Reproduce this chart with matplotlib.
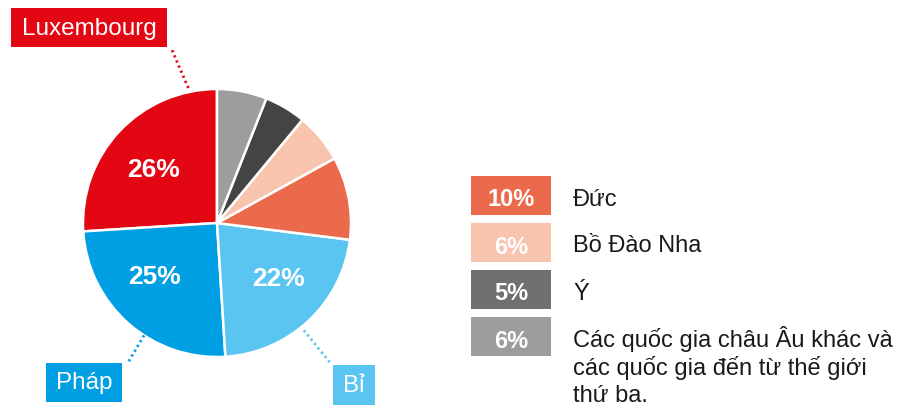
import matplotlib.pyplot as plt
import numpy as np
from matplotlib.patches import Rectangle

plt.rcParams['font.family'] = ['Liberation Sans', 'DejaVu Sans']

countries = ['Luxembourg', 'Pháp', 'Bỉ', 'Đức', 'Bồ Đào Nha', 'Ý',
             'Các quốc gia châu Âu khác và\ncác quốc gia đến từ thế giới\nthứ ba.']
shares = [26, 25, 22, 10, 6, 5, 6]
wedge_colors = ['#e30613', '#009fe3', '#5bc5f2', '#ec6a4c', '#f8c4ae', '#444443', '#9d9d9c']
legend_colors = ['#ec6a4c', '#f8c4ae', '#707070', '#9d9d9c']

W, H = 907, 408
fig = plt.figure(figsize=(W / 100, H / 100), dpi=100)
ax = fig.add_axes([0, 0, 1, 1])

cx, cy, R = 217, H - 223, 134
wedges, _, autotexts = ax.pie(
    shares, colors=wedge_colors, startangle=90, counterclock=True,
    center=(cx, cy), radius=R,
    autopct=lambda p: f'{p:.0f}%' if p > 15 else '', pctdistance=0.62,
    wedgeprops=dict(edgecolor='white', linewidth=1.8),
    textprops=dict(color='white', fontsize=19, fontweight='bold'))

ax.set_xlim(0, W)
ax.set_ylim(0, H)
ax.set_aspect('equal')
ax.axis('off')


def polar(angle, r):
    a = np.deg2rad(angle)
    return cx + r * np.cos(a), cy + r * np.sin(a)


# nudge the percentage labels toward the middle of each quarter
for t, ang in zip(autotexts[:3], [140, 220.7, 318]):
    t.set_position(polar(ang, 83))

# callout labels for the three big slices: (angle in, r in, angle out, r out, box)
callouts = [
    (102, 138, 104.6, 179, (11, 8, 156, 39)),
    (237, 134, 237.5, 166, (46, 363, 76, 39)),
    (309, 138, 309, 179, (333, 365, 42, 40)),
]
for i, (a0, r0, a1, r1, (bx, by, bw, bh)) in enumerate(callouts):
    x0, y0 = polar(a0, r0)
    x1, y1 = polar(a1, r1)
    col = wedge_colors[i]
    ax.plot([x0, x1], [y0, y1], color=col, linewidth=2,
            linestyle=(0, (0.8, 1.2)), solid_capstyle='round')
    ax.add_patch(Rectangle((bx, H - by - bh), bw, bh, color=col, lw=0))
    ax.text(bx + bw / 2, H - by - bh / 2 - 1, countries[i], color='white',
            fontsize=17.5, ha='center', va='center')

# legend for the small slices
for k, i in enumerate(range(3, 7)):
    top = 176 + 47 * k
    ax.add_patch(Rectangle((471, H - top - 39), 80, 39, color=legend_colors[k], lw=0))
    base = H - (top + 19.5) - 10
    ax.text(511, base - 1, f'{shares[i]}%', color='white', fontsize=17,
            fontweight='bold', ha='center', va='baseline')
    ax.text(573, base, countries[i].split('\n')[0], color='#1a1a1a', fontsize=17,
            ha='left', va='baseline')
    for j, line in enumerate(countries[i].split('\n')[1:], 1):
        ax.text(573, base - 28 * j, line, color='#1a1a1a', fontsize=17,
                ha='left', va='baseline')

fig.savefig('out.png', dpi=100)
